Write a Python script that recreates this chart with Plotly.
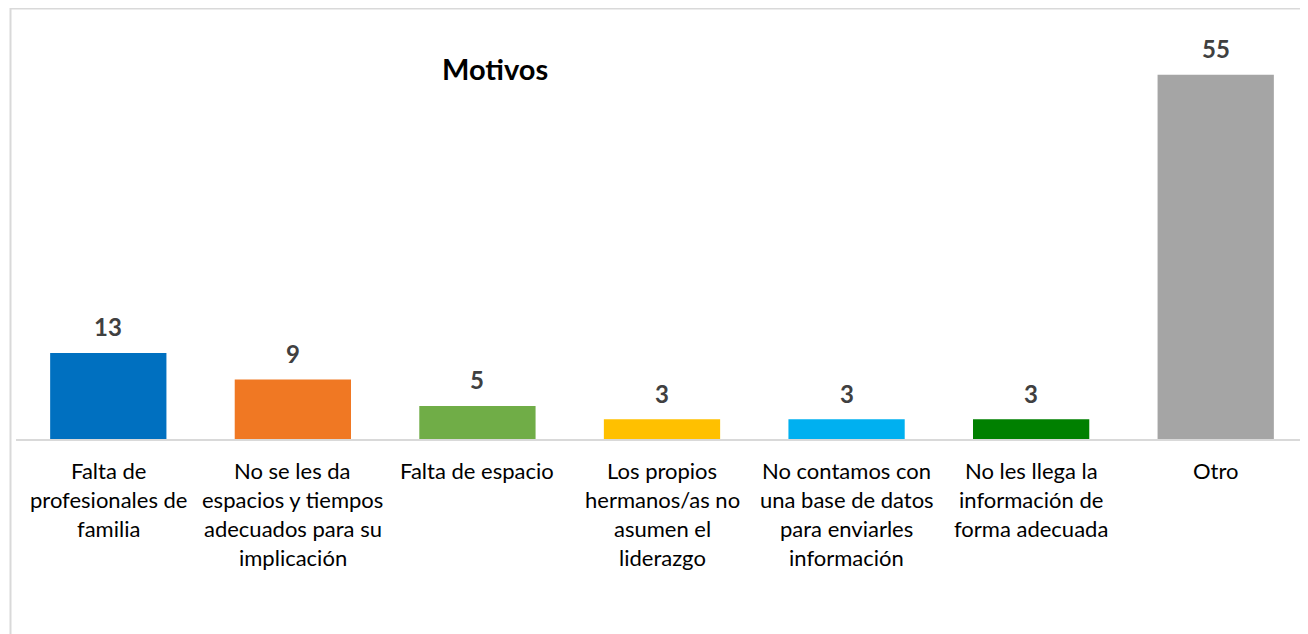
import plotly.graph_objects as go

categories = [
    "Falta de profesionales de familia",
    "No se les da espacios y tiempos adecuados para su implicación",
    "Falta de espacio",
    "Los propios hermanos/as no asumen el liderazgo",
    "No contamos con una base de datos para enviarles información",
    "No les llega la información de forma adecuada",
    "Otro",
]
label_lines = [
    ["Falta de", "profesionales de", "familia"],
    ["No se les da", "espacios y tiempos", "adecuados para su", "implicación"],
    ["Falta de espacio"],
    ["Los propios", "hermanos/as no", "asumen el", "liderazgo"],
    ["No contamos con", "una base de datos", "para enviarles", "información"],
    ["No les llega la", "información de", "forma adecuada"],
    ["Otro"],
]
values = [13, 9, 5, 3, 3, 3, 55]
colors = ["#0070C0", "#F07823", "#70AD47", "#FFC000", "#00B0F0", "#008000", "#A5A5A5"]

# page body has an 8px default margin: the figure is offset by (8, 8)
OFF = 8
W, H = 1308 - OFF, 634 - OFF
L, R, T, B = 16 - OFF, 0, 0, 195
pw, ph = W - L - R, H - T - B


def px(x):
    return (x - OFF - L) / pw


def py(y):
    return (H - B - (y - OFF)) / ph


fig = go.Figure()
fig.add_trace(go.Bar(
    x=categories, y=values, marker=dict(color=colors, line=dict(width=0)),
    hoverinfo="x+y",
))

annotations = []
for c, v in zip(categories, values):
    annotations.append(dict(
        x=c, y=v, xref="x", yref="y", text=f"<b>{v}</b>", showarrow=False,
        yanchor="middle", yshift=26,
        font=dict(family="Lato", size=24, color="#404040"),
    ))
for c, lines in zip(categories, label_lines):
    for i, ln in enumerate(lines):
        annotations.append(dict(
            x=c, y=0, xref="x", yref="paper", text=ln, showarrow=False,
            yanchor="middle", yshift=-(31 + i * 29),
            font=dict(family="Lato", size=22, color="#000000"),
        ))
annotations.append(dict(
    x=px(495), y=py(68), xref="paper", yref="paper", text="<b>Motivos</b>",
    showarrow=False, xanchor="center", yanchor="middle",
    font=dict(family="Lato", size=29, color="#000000"),
))

fig.update_layout(
    width=W, height=H,
    margin=dict(l=L, r=R, t=T, b=B),
    paper_bgcolor="white", plot_bgcolor="white",
    bargap=0.37,
    showlegend=False,
    annotations=annotations,
    xaxis=dict(showticklabels=False, ticks="", showline=True, linecolor="#D9D9D9",
               linewidth=2, showgrid=False, zeroline=False),
    yaxis=dict(range=[0, 65.1], visible=False, showgrid=False, zeroline=False),
    shapes=[dict(type="rect", xref="paper", yref="paper",
                 x0=px(10.5), x1=px(1330), y0=py(660), y1=py(8.5),
                 line=dict(color="#D9D9D9", width=2), fillcolor="rgba(0,0,0,0)",
                 layer="below")],
)

fig.write_html("out.html")
